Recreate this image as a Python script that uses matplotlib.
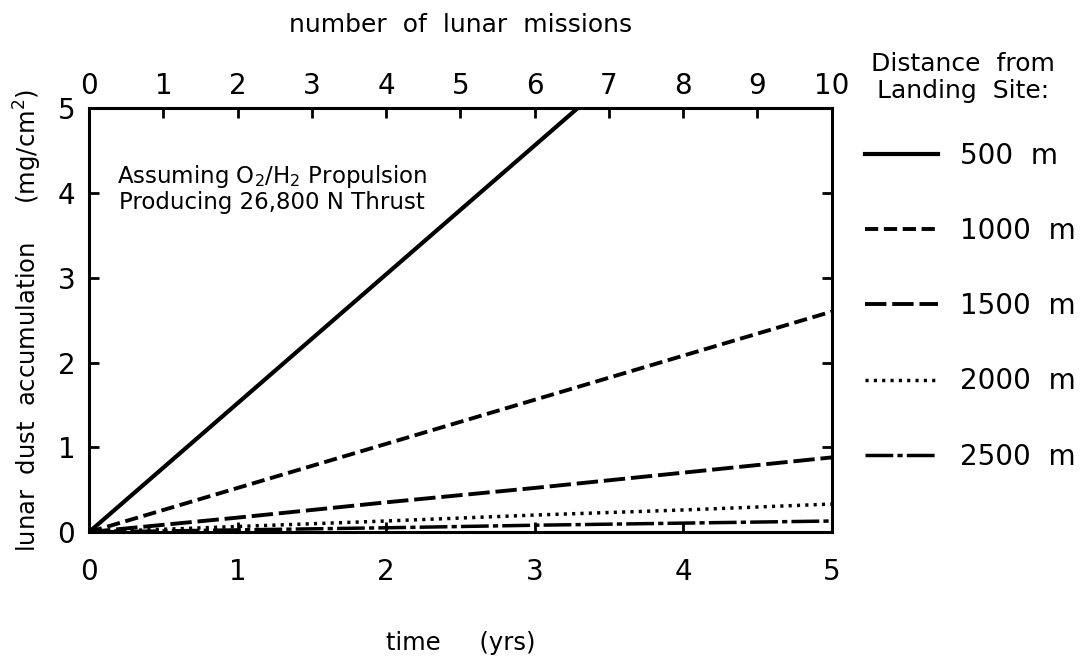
import matplotlib
matplotlib.use("Agg")
import matplotlib.pyplot as plt

# time in years, dust accumulation in mg/cm^2 per distance from landing site
years = [0, 1, 2, 3, 4, 5]
dust_500 = [0, 1.52, 3.04, 4.56, 6.08, 7.60]
dust_1000 = [0, 0.52, 1.04, 1.56, 2.08, 2.60]
dust_1500 = [0, 0.17, 0.35, 0.52, 0.70, 0.88]
dust_2000 = [0, 0.065, 0.13, 0.20, 0.26, 0.33]
dust_2500 = [0, 0.025, 0.05, 0.08, 0.105, 0.13]

labels = ['500  m', '1000  m', '1500  m', '2000  m', '2500  m']
year_ticks = [0, 1, 2, 3, 4, 5]
mission_ticks = [0, 1, 2, 3, 4, 5, 6, 7, 8, 9, 10]
dust_ticks = [0, 1, 2, 3, 4, 5]

plt.rcParams['font.family'] = ['DejaVu Sans']

fig = plt.figure(figsize=(10.87, 6.56), dpi=100)
ax = fig.add_axes([0.082, 0.189, 0.683, 0.646])

series = [dust_500, dust_1000, dust_1500, dust_2000, dust_2500]
styles = [
    dict(linestyle='-', lw=3.0),
    dict(dashes=(3.4, 1.45), lw=2.8),
    dict(dashes=(5.5, 1.5), lw=2.8),
    dict(dashes=(0.9, 1.5), lw=2.5),
    dict(dashes=(8.0, 1.2, 1.5, 1.2), lw=2.5),
]
for vals, lab, st in zip(series, labels, styles):
    ax.plot(years, vals, color='black', label=lab, **st)

ax.set_xlim(0, 5)
ax.set_ylim(0, 5)
ax.set_xticks(year_ticks)
ax.set_yticks(dust_ticks)
for s in ax.spines.values():
    s.set_linewidth(2.2)
ax.tick_params(axis='both', direction='in', length=7, width=2, labelsize=20)
ax.tick_params(axis='x', pad=19)
ax.tick_params(axis='y', pad=10, right=True)

ax.set_xlabel('time     (yrs)', fontsize=17.5, labelpad=32)
ax.set_ylabel('lunar  dust  accumulation     (mg/cm$^2$)', fontsize=17.5, labelpad=10)

top = ax.twiny()
top.set_xlim(0, 10)
top.set_xticks(mission_ticks)
top.tick_params(axis='x', direction='in', length=7, width=2, labelsize=20, pad=6)
top.set_xlabel('number  of  lunar  missions', fontsize=18, labelpad=29)

ax.text(1.23, 4.05, 'Assuming O$_2$/H$_2$ Propulsion\nProducing 26,800 N Thrust',
        ha='center', va='center', fontsize=16.5, linespacing=1.05)

fig.text(0.886, 0.882, 'Distance  from\nLanding  Site:', ha='center', va='center',
         fontsize=18, linespacing=1.15)
leg = ax.legend(loc='upper left', bbox_to_anchor=(0.786, 0.801),
                bbox_transform=fig.transFigure, frameon=False, fontsize=20,
                handlelength=2.6, handletextpad=0.8, labelspacing=1.7,
                borderaxespad=0)

fig.savefig('out.png', dpi=100)
